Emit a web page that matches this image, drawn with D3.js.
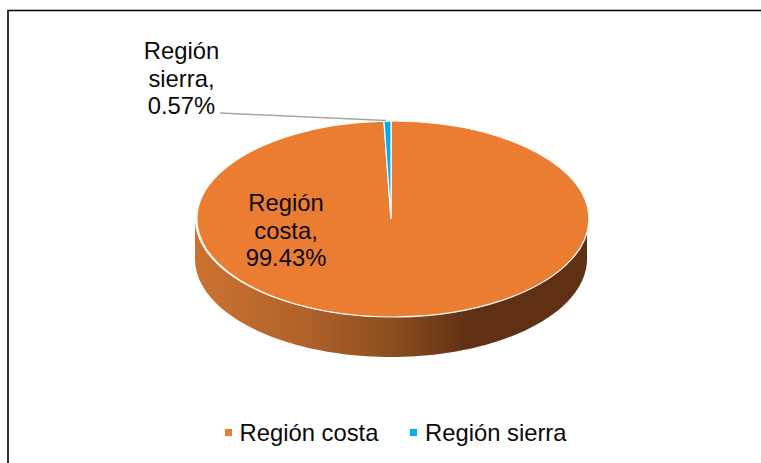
<!DOCTYPE html>
<html><head><meta charset="utf-8">
<script src="https://cdn.jsdelivr.net/npm/d3@7/dist/d3.min.js"></script>
<style>html,body{margin:0;padding:0;background:#fff}svg{display:block}text{font-family:"Liberation Sans",Arial,sans-serif;fill:#0a0a0a;font-size:23.8px}</style>
</head><body><svg id="c" width="761" height="463"></svg>
<script>
const categories = ["Región costa", "Región sierra"];
const shares = [99.43, 0.57];
const shareLabels = ["99.43%", "0.57%"];
const labelLines = [["Región", "costa,"], ["Región", "sierra,"]];
const colors = ["#EB7D33", "#00AEEF"];
const wallStops = [[0, "#cc7230"], [0.28, "#b0622a"], [0.5, "#8c4e20"], [0.7, "#5f3013"], [1, "#5f3013"]];

const W = 761, H = 463, cx = 391, cy = 219, rx = 196, ry = 98, depth = 40;
const svg = d3.select("#c");

svg.append("path").attr("d", d3.line()([[8, H], [8, 10.5], [W, 10.5]]))
  .attr("fill", "none").attr("stroke", "#000").attr("stroke-width", 1.6);

const grad = svg.append("defs").append("linearGradient").attr("id", "wall");
grad.selectAll("stop").data(wallStops).join("stop")
  .attr("offset", d => d[0]).attr("stop-color", d => d[1]);

const pie = d3.pie().sort(null).value(d => d)(shares);
const sweep = d3.scaleLinear().domain([0, 1]).range([Math.PI / 2, 3 * Math.PI / 2]);
const wall = d3.area()
  .x(a => cx + rx * Math.sin(a))
  .y0(a => cy - ry * Math.cos(a))
  .y1(a => cy - ry * Math.cos(a) + depth);
svg.append("path").attr("d", wall(d3.range(0, 1.0001, 0.01).map(sweep).reverse()))
  .attr("fill", "url(#wall)");

const arc = d3.arc().innerRadius(0).outerRadius(1);
svg.append("g").attr("transform", `translate(${cx},${cy}) scale(${rx},${ry})`)
  .selectAll("path").data(pie).join("path")
  .attr("d", arc)
  .attr("fill", (d, i) => colors[i])
  .attr("stroke", "#fff").attr("stroke-width", 1.2)
  .attr("vector-effect", "non-scaling-stroke");

svg.append("path").attr("d", d3.line()([[220, 113], [386, 120.5]]))
  .attr("fill", "none").attr("stroke", "#a6a6a6").attr("stroke-width", 1.5);

const labelPos = [[286, 211], [181.5, 59]];
labelLines.forEach((lines, i) => {
  const t = svg.append("text").attr("text-anchor", "middle");
  [...lines, shareLabels[i]].forEach((s, j) =>
    t.append("tspan").attr("x", labelPos[i][0]).attr("y", labelPos[i][1] + j * 27.5).text(s));
});

const legendSwatch = [225, 410], legendText = [239.5, 425];
categories.forEach((c, i) => {
  svg.append("rect").attr("x", legendSwatch[i]).attr("y", 429).attr("width", 7).attr("height", 7).attr("fill", colors[i]);
  svg.append("text").attr("x", legendText[i]).attr("y", 441).text(c);
});
</script></body></html>
